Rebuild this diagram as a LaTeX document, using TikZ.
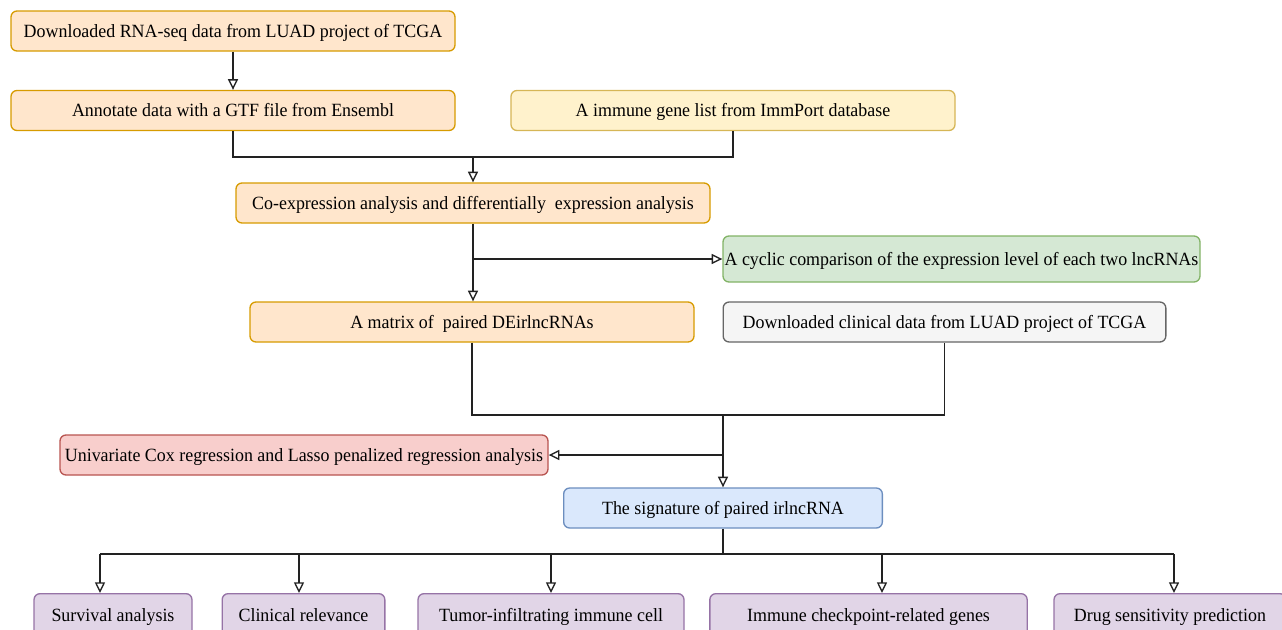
\documentclass[tikz,border=0pt]{standalone}
\usepackage{fontspec}
\setmainfont[FakeStretch=0.96]{Liberation Serif}
\usetikzlibrary{arrows.meta, calc}
\definecolor{corangef}{HTML}{FFE6CC}
\definecolor{corange}{HTML}{D79B00}
\definecolor{cyellowf}{HTML}{FFF2CC}
\definecolor{cyellow}{HTML}{D6B656}
\definecolor{cgreenf}{HTML}{D5E8D4}
\definecolor{cgreen}{HTML}{82B366}
\definecolor{cgreyf}{HTML}{F5F5F5}
\definecolor{cgrey}{HTML}{666666}
\definecolor{credf}{HTML}{F8CECC}
\definecolor{cred}{HTML}{B85450}
\definecolor{cbluef}{HTML}{DAE8FC}
\definecolor{cblue}{HTML}{6C8EBF}
\definecolor{cpurplef}{HTML}{E1D5E7}
\definecolor{cpurple}{HTML}{9673A6}
\definecolor{cline}{HTML}{222222}
\tikzset{
  every picture/.style={font=\fontsize{14}{16}\selectfont, line width=1pt},
  box/.style 2 args={draw=#1, fill=#2, rounded corners=4.5pt, align=center, inner sep=1pt, minimum height=30pt, text height=9.5pt, text depth=0pt},
  arrow/.style={-{Triangle[open, length=8pt, width=7.5pt]}, draw=cline},
  link/.style={draw=cline},
}
\begin{document}
\begin{tikzpicture}[x=0.75pt, y=-0.75pt]
  \useasboundingbox (0,0) rectangle (1282,629);
  \node[box={corange}{corangef}, minimum width=333pt] (dl) at (233,31) {Downloaded RNA-seq data from LUAD project of TCGA};
  \node[box={corange}{corangef}, minimum width=333pt] (annot) at (233,110.5) {Annotate data with a GTF file from Ensembl};
  \node[box={cyellow}{cyellowf}, minimum width=333pt] (immune) at (733,110.5) {A immune gene list from ImmPort database};
  \node[box={corange}{corangef}, minimum width=355.5pt] (coexp) at (473,203) {Co-expression analysis and differentially\ \ expression analysis};
  \node[box={cgreen}{cgreenf}, minimum width=357.75pt, minimum height=34.5pt] (cyclic) at (961.5,259) {A cyclic comparison of the expression level of each two lncRNAs};
  \node[box={corange}{corangef}, minimum width=333pt] (matrix) at (472,322) {A matrix of\ \ paired DEirlncRNAs};
  \node[box={cgrey}{cgreyf}, minimum width=332pt] (clinical) at (944.5,322) {Downloaded clinical data from LUAD project of TCGA};
  \node[box={cred}{credf}, minimum width=366pt] (univar) at (304,455) {Univariate Cox regression and Lasso penalized regression analysis};
  \node[box={cblue}{cbluef}, minimum width=239pt] (sig) at (723,508) {The signature of paired irlncRNA};
  \node[box={cpurple}{cpurplef}, minimum width=118.5pt, minimum height=32pt] (surv) at (113,615) {Survival analysis};
  \node[box={cpurple}{cpurplef}, minimum width=122pt, minimum height=32pt] (clin) at (303.5,615) {Clinical relevance};
  \node[box={cpurple}{cpurplef}, minimum width=199.5pt, minimum height=32pt] (tumor) at (551,615) {Tumor-infiltrating immune cell};
  \node[box={cpurple}{cpurplef}, minimum width=238pt, minimum height=32pt] (immck) at (868.5,615) {Immune checkpoint-related genes};
  \node[box={cpurple}{cpurplef}, minimum width=174pt, minimum height=32pt] (drug) at (1170,615) {Drug sensitivity prediction};
  \coordinate (j1) at (473,157);
  \coordinate (j2) at (723,415);
  \coordinate (j3) at (723,554);
  \draw[arrow] (dl) -- (annot);
  \draw[link] (annot.south) |- (j1);
  \draw[link] (immune.south) |- (j1);
  \draw[arrow] (j1) -- (coexp.north);
  \draw[arrow] (coexp.south) -- (coexp.south |- matrix.north);
  \draw[arrow] (coexp.south |- cyclic.west) -- (cyclic.west);
  \draw[link] (matrix.south) |- (clinical.south |- j2) -- (clinical.south);
  \draw[arrow] (j2) -- (sig.north);
  \draw[arrow] (j2 |- univar.east) -- (univar.east);
  \draw[link] (sig.south) -- (j3);
  \draw[link] ($(surv.north |- j3)+(-13,0)$) -- ($(drug.north |- j3)+(4,0)$);
  \foreach \b/\dx in {surv/-13, clin/-4.5, tumor/0, immck/13.5, drug/4}
    \draw[arrow] ($(\b.north |- j3)+(\dx,0)$) -- ($(\b.north)+(\dx,0)$);
\end{tikzpicture}
\end{document}
